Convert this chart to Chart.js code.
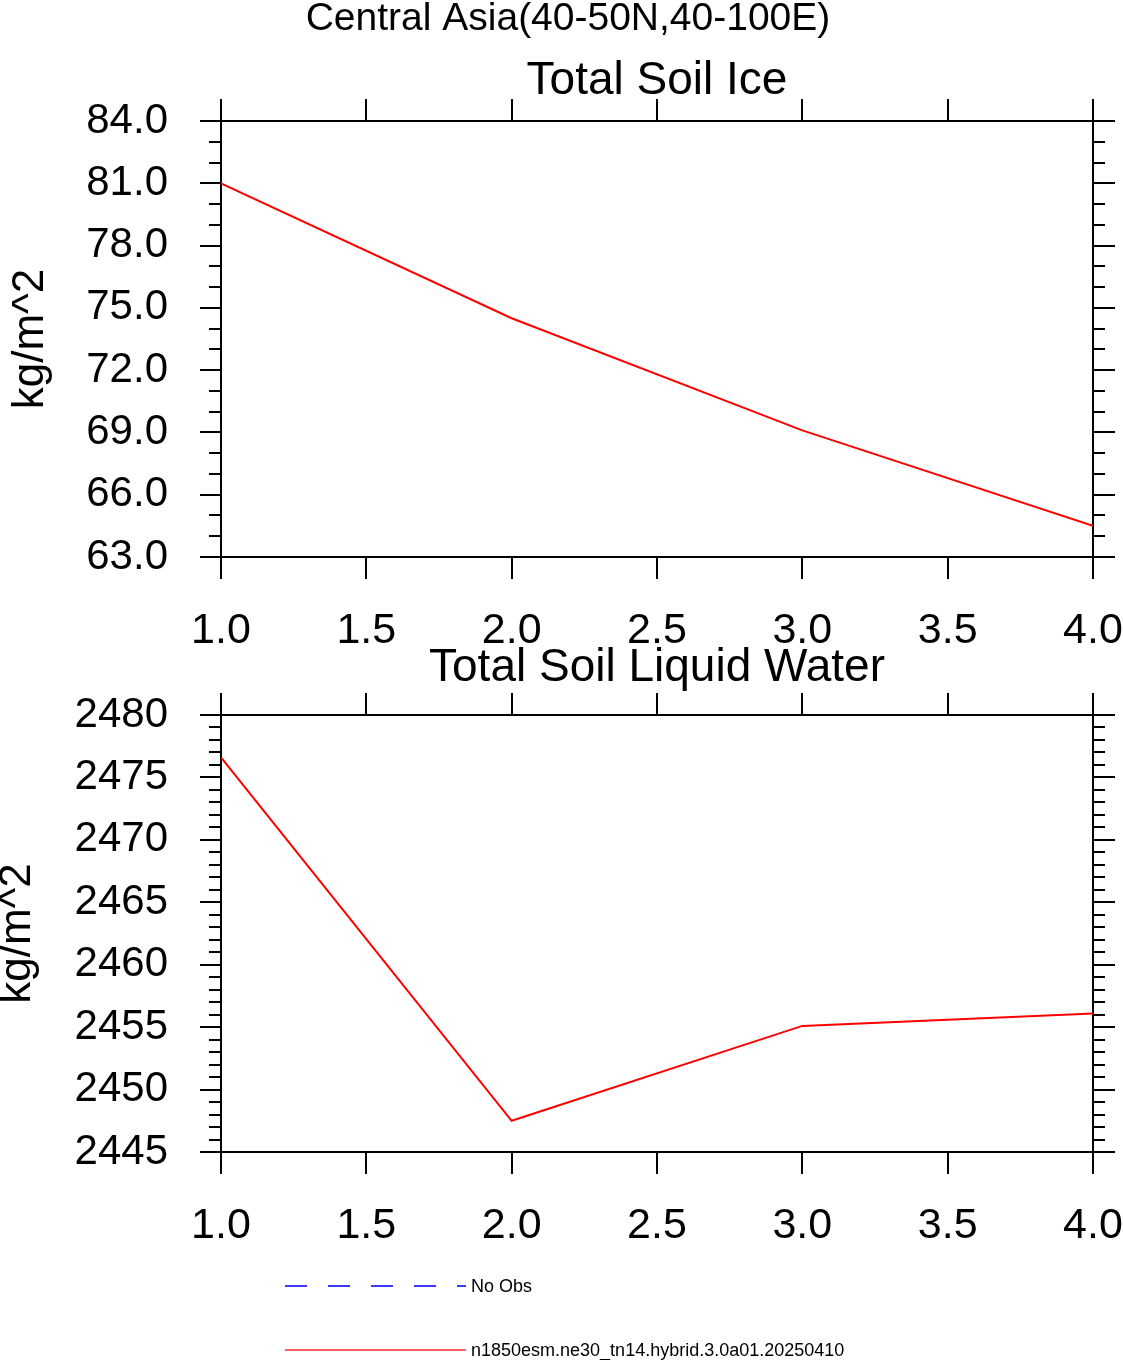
<!DOCTYPE html>
<html>
<head>
<meta charset="utf-8">
<title>Central Asia soil ice and liquid water</title>
<script src="https://cdn.jsdelivr.net/npm/chart.js@4.4.1/dist/chart.umd.min.js"></script>
<style>
    body { margin: 0; background: #fff; }
    #page { position: relative; width: 1123px; height: 1360px; overflow: hidden; background: #fff; }
    canvas { position: absolute; left: 0; }
    #iceChart { top: 0; }
    #liquidChart { top: 600px; }
    #legend { position: absolute; left: 0; top: 1260px; }
</style>
</head>
<body>
<div id="page">
    <canvas id="iceChart" width="1123" height="660"></canvas>
    <canvas id="liquidChart" width="1123" height="660"></canvas>
    <svg id="legend" width="1123" height="100" xmlns="http://www.w3.org/2000/svg">
        <line x1="285" y1="26" x2="466" y2="26" stroke="#3a3aff" stroke-width="2" stroke-dasharray="22 21"/>
        <text x="471" y="32" font-family="Liberation Sans, Arial, sans-serif" font-size="18" fill="#000">No Obs</text>
        <line x1="285" y1="90" x2="466" y2="90" stroke="#ff2a2a" stroke-width="1.6"/>
        <text x="471" y="96" font-family="Liberation Sans, Arial, sans-serif" font-size="18" fill="#000">n1850esm.ne30_tn14.hybrid.3.0a01.20250410</text>
    </svg>
</div>
<script>
// values
const years = [1, 2, 3, 4];
const soilIce = [81.0, 74.5, 69.1, 64.5];
const soilLiquid = [2476.6, 2447.5, 2455.1, 2456.1];

const xTicks = [1.0, 1.5, 2.0, 2.5, 3.0, 3.5, 4.0];
const iceTicks = [63, 66, 69, 72, 75, 78, 81, 84];
const liquidTicks = [2445, 2450, 2455, 2460, 2465, 2470, 2475, 2480];

const FONT = '"Liberation Sans", Arial, sans-serif';

// short ticks between the labelled ones, on both sides of the plot
const minorTicks = {
    id: 'minorTicks',
    afterDraw(chart, args, opts) {
        const { ctx, chartArea } = chart;
        const y = chart.scales.y;
        ctx.save();
        ctx.strokeStyle = '#000';
        ctx.lineWidth = 2;
        const n = Math.round((y.max - y.min) / opts.step);
        for (let i = 1; i < n; i++) {
            if (i % opts.every === 0) continue;
            const py = Math.round(y.getPixelForValue(y.min + i * opts.step));
            ctx.beginPath();
            ctx.moveTo(chartArea.left - opts.length, py);
            ctx.lineTo(chartArea.left, py);
            ctx.moveTo(chartArea.right, py);
            ctx.lineTo(chartArea.right + opts.length, py);
            ctx.stroke();
        }
        ctx.restore();
    }
};

// titles above the plot
const headings = {
    id: 'headings',
    afterDraw(chart, args, opts) {
        const { ctx, chartArea } = chart;
        ctx.save();
        ctx.fillStyle = '#000';
        ctx.textAlign = 'center';
        ctx.textBaseline = 'middle';
        opts.lines.forEach(line => {
            ctx.font = `${line.size}px ${FONT}`;
            const x = line.x !== undefined ? line.x : (chartArea.left + chartArea.right) / 2;
            ctx.fillText(line.text, x, line.y);
        });
        ctx.restore();
    }
};

function axisGrid(len) {
    return {
        drawOnChartArea: false,
        drawTicks: true,
        tickLength: len,
        color: '#000',
        lineWidth: 2
    };
}

const border = { display: true, color: '#000', width: 2 };

// keep the plot box where it is, labels may hang over the edges
function noPad(s) {
    s.paddingLeft = 0;
    s.paddingRight = 0;
    s.paddingTop = 0;
    s.paddingBottom = 0;
}

function makeChart(id, values, yTicks, yFmt, opts) {
    const setTicks = list => axis => { axis.ticks = list.map(v => ({ value: v })); };
    return new Chart(document.getElementById(id), {
        type: 'line',
        data: {
            datasets: [{
                label: 'n1850esm.ne30_tn14.hybrid.3.0a01.20250410',
                data: years.map((x, i) => ({ x: x, y: values[i] })),
                borderColor: '#ff0000',
                borderWidth: 2,
                pointRadius: 0,
                tension: 0,
                fill: false
            }]
        },
        options: {
            responsive: false,
            animation: false,
            events: [],
            layout: { padding: 0 },
            plugins: {
                legend: { display: false },
                tooltip: { enabled: false },
                minorTicks: { step: 1, every: opts.every, length: 12 },
                headings: { lines: opts.headings }
            },
            scales: {
                x: {
                    type: 'linear',
                    position: 'bottom',
                    min: 1, max: 4,
                    afterBuildTicks: setTicks(xTicks),
                    afterFit: s => { s.height = opts.bottomH; noPad(s); },
                    grid: axisGrid(22),
                    border: border,
                    ticks: {
                        color: '#000',
                        padding: 26,
                        maxRotation: 0,
                        autoSkip: false,
                        font: { family: FONT, size: 43 },
                        callback: v => v.toFixed(1)
                    }
                },
                x2: {
                    type: 'linear',
                    position: 'top',
                    min: 1, max: 4,
                    afterBuildTicks: setTicks(xTicks),
                    afterFit: s => { s.height = opts.topH; noPad(s); },
                    grid: axisGrid(22),
                    border: border,
                    ticks: { display: false }
                },
                y: {
                    type: 'linear',
                    position: 'left',
                    min: yTicks[0], max: yTicks[yTicks.length - 1],
                    afterBuildTicks: setTicks(yTicks),
                    afterFit: s => { s.width = 221; noPad(s); },
                    grid: axisGrid(21),
                    border: border,
                    title: {
                        display: true,
                        text: 'kg/m^2',
                        color: '#000',
                        font: { family: FONT, size: 44, lineHeight: opts.titleLH },
                        padding: { top: opts.titlePad, bottom: 0 }
                    },
                    ticks: {
                        color: '#000',
                        padding: 32,
                        autoSkip: false,
                        font: { family: FONT, size: 42 },
                        callback: yFmt
                    }
                },
                y2: {
                    type: 'linear',
                    position: 'right',
                    min: yTicks[0], max: yTicks[yTicks.length - 1],
                    afterBuildTicks: setTicks(yTicks),
                    afterFit: s => { s.width = 30; noPad(s); },
                    grid: axisGrid(22),
                    border: border,
                    ticks: { display: false }
                }
            }
        },
        plugins: [minorTicks, headings]
    });
}

makeChart('iceChart', soilIce, iceTicks, v => v.toFixed(1), {
    every: 3, topH: 121, bottomH: 103, titleLH: 1.2, titlePad: 4,
    headings: [
        { text: 'Central Asia(40-50N,40-100E)', size: 39, x: 568, y: 19 },
        { text: 'Total Soil Ice', size: 46, y: 81 }
    ]
});

makeChart('liquidChart', soilLiquid, liquidTicks, v => String(v), {
    every: 5, topH: 115, bottomH: 108, titleLH: 0.5, titlePad: 7,
    headings: [
        { text: 'Total Soil Liquid Water', size: 46, y: 68 }
    ]
});
</script>
</body>
</html>
